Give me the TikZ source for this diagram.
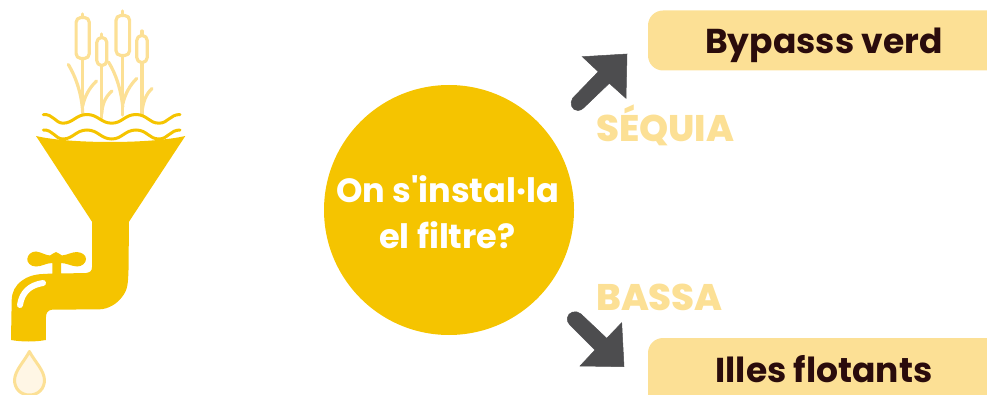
\documentclass[tikz,border=0pt]{standalone}
\usepackage{fontspec}
\setmainfont{Poppins}[Ligatures=TeXOff]
\newfontfamily\heavy{Poppins ExtraBold}[Ligatures=TeXOff]
\definecolor{gold}{HTML}{F5C400}
\definecolor{pale}{HTML}{FCE095}
\definecolor{cream}{HTML}{FFF6E5}
\definecolor{ink}{HTML}{2A0C0C}
\definecolor{slate}{HTML}{4D4D4F}
\tikzset{
  reed/.style={draw=pale,line width=3.2pt,line cap=round,line join=round},
  wave/.style={draw=gold,line width=3pt,line cap=round},
  tag/.style={font=\fontsize{#1}{#1}\selectfont\bfseries,text=ink,inner sep=0pt,anchor=base},
  ask/.style={font=\fontsize{33.6}{33.6}\selectfont\bfseries,text=white,inner sep=0pt,anchor=base},
  lbl/.style={font=\fontsize{#1}{#1}\selectfont\heavy,text=pale,inner sep=0pt,anchor=base west},
  blockarrow/.style={fill=slate,draw=slate,line width=.5pt,line join=miter},
}
\begin{document}
\begin{tikzpicture}[x=1pt,y=-1pt]
\useasboundingbox (0,0) rectangle (987,395);
\clip (0,0) rectangle (987,395);
% reeds
\def\capsule#1#2#3#4#5#6{% left, right, top, bottom, cx, tip
  \draw[reed] (#5,#6) -- (#5,#3);
  \draw[reed,rounded corners=4.8pt] (#1,#3) rectangle (#2,#4);
}
\capsule{76.1}{89.3}{17.5}{58.5}{82.7}{14}
\capsule{96.8}{106.8}{37.5}{65.5}{101.8}{34}
\capsule{116}{129.6}{15.5}{55.5}{122.8}{11}
\capsule{136.8}{147.2}{35.5}{62.5}{142}{31}
\draw[reed] (82.7,59) -- (82.7,113) (101.8,66) -- (101.8,118) (122.8,56) -- (122.8,115) (142,63) -- (142,115);
\draw[reed] (68.3,64.5) .. controls (76,77) and (82,95) .. (82.7,113);
\draw[reed] (96.5,81) .. controls (89,88) and (84.5,97) .. (82.7,106);
\draw[reed] (112,91) .. controls (105,97) and (102,105) .. (101.8,114);
\draw[reed] (108.5,62) .. controls (116,74) and (121,90) .. (122.8,107);
\draw[reed] (136.7,78.5) .. controls (130,85) and (125,94) .. (122.8,104);
\draw[reed] (152,88.5) .. controls (146,94) and (143,102) .. (142,112);
% waves
\draw[wave] (43.3,114.7) .. controls (53,113.5) and (55,123) .. (63,123.2)
  .. controls (73,123.2) and (76,114.5) .. (87,114.5)
  .. controls (98,114.5) and (101,123.2) .. (111.7,123.2)
  .. controls (122,123.2) and (125,114.5) .. (136,114.5)
  .. controls (147,114.5) and (149,123.2) .. (159,123.2)
  .. controls (168,123.2) and (170,114.5) .. (180,114.5);
\draw[wave] (43.3,130) .. controls (53,129.5) and (55,139) .. (63,139)
  .. controls (73,139) and (76,130) .. (87,130)
  .. controls (98,130) and (101,139) .. (111.7,139)
  .. controls (122,139) and (125,130) .. (136,130)
  .. controls (147,130) and (149,139) .. (159,139)
  .. controls (168,139) and (170,130) .. (180,130);
% funnel and tap
\fill[gold] (36,136) .. controls (70,144) and (150,144) .. (185.3,136)
  -- (129,221.7) -- (128.5,270)
  .. controls (128,285) and (127.5,290) .. (122,297)
  .. controls (117,304) and (108,309) .. (100,309.3)
  -- (52,309.7) .. controls (48,310) and (46,313) .. (46,317)
  -- (45.8,340) .. controls (35,342) and (22,342) .. (11,340)
  -- (11.7,300) .. controls (12,284) and (26,274.5) .. (43,274)
  -- (52.3,273.5) -- (52.3,263) .. controls (46,263) and (42,266.5) .. (36,266.5)
  .. controls (30,266.5) and (27,262) .. (27.3,259)
  .. controls (27.5,255) and (31,251.5) .. (36,251.5)
  .. controls (41,252) and (46,255.5) .. (50,255.5)
  .. controls (52,255) and (54,252) .. (56,252)
  .. controls (58,252) and (60,255) .. (62,255.5)
  .. controls (67,255) and (72,252) .. (77,252)
  .. controls (82,252.5) and (86,255) .. (86,259)
  .. controls (86,263) and (82,266.5) .. (77,266.5)
  .. controls (71,266) and (66,263) .. (61,263)
  -- (61,273.5) -- (86,273) .. controls (90,272.5) and (92,271) .. (92,267)
  -- (92,221.7) -- cycle;
\draw[white,line width=6pt,line cap=round] (43,283) .. controls (30,285) and (22,292) .. (20,305);
% drop
\draw[pale,fill=cream,line width=3pt,line join=round] (29.4,351.5) .. controls (24,362) and (15,370) .. (14.5,380)
  .. controls (14.5,389) and (21,395) .. (29.4,395) .. controls (38,395) and (44.5,389) .. (44.5,380)
  .. controls (44,370) and (35,362) .. (29.4,351.5) -- cycle;
% circle
\node[circle,fill=gold,minimum size=250pt,inner sep=0pt] (q) at (449,210) {};
\node[ask] (qa) at (447.5,203) {On s'instal·la};
\node[ask] (qb) at (447.5,248) {el filtre?};
% boxes
\fill[pale,rounded corners=15pt] (648,10.5) rectangle (1010,70.5);
\fill[pale,rounded corners=15pt] (648,338) rectangle (1010,420);
\node[tag=34.5] (bv) at (824,54) {Bypasss verd};
\node[tag=34.5] (il) at (824,382) {Illes flotants};
% labels
\node[lbl=37] (seq) at (596,142) {SÉQUIA};
\node[lbl=37] (bas) at (596,310) {BASSA};
% arrows
\filldraw[blockarrow] (627,54) -- (582.3,56.7) -- (598.3,71.7) -- (572.8,98) .. controls (569,103) and (572,111) .. (578,110.5) .. controls (580,110.5) and (582,109.5) .. (583.5,108) -- (609.3,83.3) -- (626,98.3) -- cycle;
\filldraw[blockarrow] (624,366.7) -- (621.7,322.7) -- (606.7,338.3) -- (581,314) .. controls (576,309.5) and (568,312) .. (567.3,318) .. controls (567,321) and (568,323) .. (570,325) -- (595,350) -- (580,366) -- cycle;
\end{tikzpicture}
\end{document}
